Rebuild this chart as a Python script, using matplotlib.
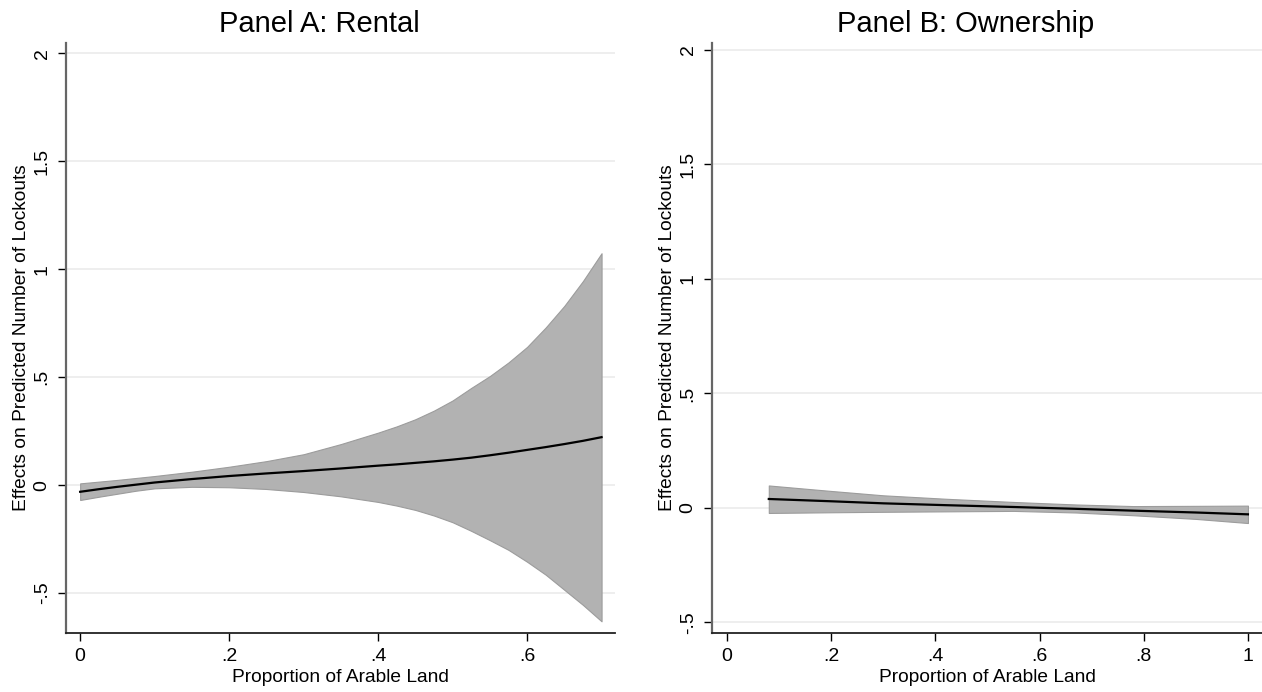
import matplotlib
matplotlib.use("Agg")
from matplotlib import pyplot as plt

plt.rcParams['font.family'] = ['Liberation Sans', 'DejaVu Sans']

# Panel A: Rental
rent_x = [0, .025, .05, .075, .1, .15, .2, .25, .3, .35, .4, .425, .45, .475,
          .5, .525, .55, .575, .6, .625, .65, .675, .7]
rent_mid = [-0.031, -0.019, -0.008, 0.002, 0.012, 0.028, 0.042, 0.054, 0.065, 0.077,
            0.090, 0.096, 0.103, 0.110, 0.118, 0.127, 0.138, 0.150, 0.163, 0.176,
            0.190, 0.205, 0.222]
rent_hi = [0.008, 0.016, 0.024, 0.033, 0.042, 0.062, 0.085, 0.111, 0.143, 0.190,
           0.243, 0.272, 0.305, 0.345, 0.392, 0.450, 0.505, 0.568, 0.640, 0.730,
           0.830, 0.945, 1.074]
rent_lo = [-0.069, -0.054, -0.040, -0.026, -0.015, -0.008, -0.010, -0.018, -0.032, -0.052,
           -0.078, -0.095, -0.115, -0.141, -0.172, -0.212, -0.255, -0.300, -0.355, -0.415,
           -0.485, -0.555, -0.631]

# Panel B: Ownership
own_x = [0.08, 0.2, 0.3, 0.42, 0.55, 0.67, 0.78, 0.9, 1.0]
own_mid = [0.039, 0.029, 0.020, 0.012, 0.004, -0.004, -0.012, -0.020, -0.028]
own_hi = [0.098, 0.074, 0.055, 0.040, 0.026, 0.015, 0.008, 0.009, 0.010]
own_lo = [-0.022, -0.019, -0.017, -0.015, -0.013, -0.020, -0.032, -0.048, -0.066]

y_ticks = [-0.5, 0, 0.5, 1, 1.5, 2]
y_labels = ["-.5", "0", ".5", "1", "1.5", "2"]
rent_xticks = [0, .2, .4, .6]
rent_xlabels = ["0", ".2", ".4", ".6"]
own_xticks = [0, .2, .4, .6, .8, 1]
own_xlabels = ["0", ".2", ".4", ".6", ".8", "1"]

fig = plt.figure(figsize=(12.62, 6.92), dpi=100)
ax1 = fig.add_axes([0.0523, 0.0853, 0.435, 0.8526])
ax2 = fig.add_axes([0.5642, 0.0853, 0.4358, 0.8526])


def style_panel(ax, title, xt, xl, xlim, ylim):
    ax.set_xlim(*xlim)
    ax.set_ylim(*ylim)
    ax.set_xticks(xt)
    ax.set_xticklabels(xl)
    ax.set_yticks(y_ticks)
    ax.set_yticklabels(y_labels, rotation=90, va='center')
    ax.grid(axis='y', color='#ebebeb', linewidth=1.2)
    ax.set_axisbelow(True)
    for s in ['top', 'right']:
        ax.spines[s].set_visible(False)
    ax.spines['left'].set_color('#666666')
    ax.spines['left'].set_linewidth(1.6)
    ax.spines['bottom'].set_color('#222222')
    ax.spines['bottom'].set_linewidth(1.3)
    ax.tick_params(axis='both', labelsize=14, length=6, width=1, direction='out', pad=5)
    # stata centres the title over the whole panel, incl. the y axis area
    ax.set_title(title, fontsize=21, pad=8, x=0.462)
    ax.set_xlabel("Proportion of Arable Land", fontsize=13.8, labelpad=3)
    ax.set_ylabel("Effects on Predicted Number of Lockouts", fontsize=13.8, labelpad=3)


ax1.fill_between(rent_x, rent_lo, rent_hi, facecolor='#b2b2b2', edgecolor='#9c9c9c', linewidth=0.8)
ax1.plot(rent_x, rent_mid, color='black', linewidth=1.6)
style_panel(ax1, "Panel A: Rental", rent_xticks, rent_xlabels, (-0.019, 0.718), (-0.685, 2.048))

ax2.fill_between(own_x, own_lo, own_hi, facecolor='#b2b2b2', edgecolor='#9c9c9c', linewidth=0.8)
ax2.plot(own_x, own_mid, color='black', linewidth=1.6)
style_panel(ax2, "Panel B: Ownership", own_xticks, own_xlabels, (-0.029, 1.027), (-0.546, 2.03))

fig.savefig("out.png", dpi=100, facecolor='white')
